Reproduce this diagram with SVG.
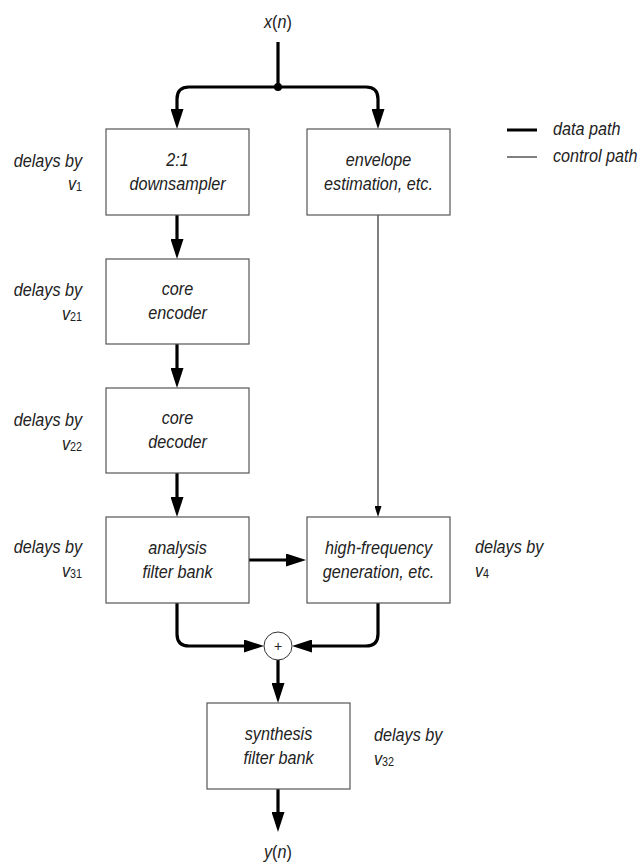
<svg xmlns="http://www.w3.org/2000/svg" width="642" height="863" viewBox="0 0 642 863">
<style>
text{font-family:"Liberation Sans",Arial,sans-serif;font-size:18px;fill:#222;font-style:italic;transform-box:fill-box;transform:scaleX(0.9);transform-origin:left center}
.mid{text-anchor:middle;transform-origin:center}
.end{text-anchor:end;transform-origin:right center}
.up{font-style:normal}
.v{font-size:18px}
.sub{font-size:12px;font-style:normal}
.plus{font-size:14px;font-style:normal;transform:none}
.box{fill:#fff;stroke:#555;stroke-width:1.2}
.data{fill:none;stroke:#000;stroke-width:3.2}
.ctrl{fill:none;stroke:#000;stroke-width:1}
</style>
<defs>
<marker id="ah" markerUnits="userSpaceOnUse" markerWidth="20" markerHeight="13" viewBox="0 0 20 13" refX="14" refY="6.5" orient="auto"><path d="M0,0 L20,6.5 L0,13 z" fill="#000"/></marker>
<marker id="as" markerUnits="userSpaceOnUse" markerWidth="11" markerHeight="7" viewBox="0 0 11 7" refX="8" refY="3.5" orient="auto"><path d="M0,0 L11,3.5 L0,7 z" fill="#000"/></marker>
</defs>

<g id="connectors">
<path class="data" d="M278,42 V87"/>
<path class="data" d="M278,87 H189 Q177,87 177,99 V123" marker-end="url(#ah)"/>
<path class="data" d="M278,87 H366 Q378,87 378,99 V123" marker-end="url(#ah)"/>
<circle cx="278" cy="87" r="4" fill="#000"/>
<path class="data" d="M177,215 V253" marker-end="url(#ah)"/>
<path class="data" d="M177,344 V382" marker-end="url(#ah)"/>
<path class="data" d="M177,473 V511" marker-end="url(#ah)"/>
<path class="ctrl" d="M378,215 V514" marker-end="url(#as)"/>
<path class="data" d="M249,560 H300" marker-end="url(#ah)"/>
<path class="data" d="M177,603 V634 Q177,646 189,646 H258" marker-end="url(#ah)"/>
<path class="data" d="M378,603 V634 Q378,646 366,646 H298" marker-end="url(#ah)"/>
<path class="data" d="M278,660 V697" marker-end="url(#ah)"/>
<path class="data" d="M278,789 V826" marker-end="url(#ah)"/>
</g>

<g id="input"><text x="278" y="28" class="mid">x<tspan class="up">(</tspan>n<tspan class="up">)</tspan></text></g>
<g id="output"><text x="278" y="858" class="mid">y<tspan class="up">(</tspan>n<tspan class="up">)</tspan></text></g>

<g id="legend">
<line x1="507" y1="130" x2="537" y2="130" stroke="#000" stroke-width="3"/>
<text x="553" y="135">data path</text>
<line x1="507" y1="157" x2="537" y2="157" stroke="#000" stroke-width="1"/>
<text x="553" y="162">control path</text>
</g>

<g id="downsampler">
<rect class="box" x="106" y="129" width="143" height="86"/>
<text x="177.5" y="166" class="mid">2:1</text>
<text x="177.5" y="190" class="mid">downsampler</text>
</g>
<g id="envelope">
<rect class="box" x="307" y="129" width="143" height="86"/>
<text x="378.5" y="166" class="mid">envelope</text>
<text x="378.5" y="190" class="mid">estimation, etc.</text>
</g>
<g id="core-encoder">
<rect class="box" x="106" y="259" width="143" height="85"/>
<text x="177.5" y="295" class="mid">core</text>
<text x="177.5" y="319" class="mid">encoder</text>
</g>
<g id="core-decoder">
<rect class="box" x="106" y="388" width="143" height="85"/>
<text x="177.5" y="424" class="mid">core</text>
<text x="177.5" y="448" class="mid">decoder</text>
</g>
<g id="analysis">
<rect class="box" x="106" y="517" width="143" height="86"/>
<text x="177.5" y="554" class="mid">analysis</text>
<text x="177.5" y="578" class="mid">filter bank</text>
</g>
<g id="hf-generation">
<rect class="box" x="307" y="517" width="143" height="86"/>
<text x="378.5" y="554" class="mid">high-frequency</text>
<text x="378.5" y="578" class="mid">generation, etc.</text>
</g>
<g id="sum">
<circle cx="278" cy="646" r="14" fill="#fff" stroke="#333" stroke-width="1"/>
<text x="278" y="651" class="mid plus">+</text>
</g>
<g id="synthesis">
<rect class="box" x="207" y="703" width="143" height="86"/>
<text x="278.5" y="740" class="mid">synthesis</text>
<text x="278.5" y="764" class="mid">filter bank</text>
</g>

<g id="delay-labels">
<text x="82" y="167" class="end">delays by</text>
<text x="82" y="190" class="end v">v<tspan class="sub" dy="1">1</tspan></text>
<text x="82" y="296" class="end">delays by</text>
<text x="82" y="320" class="end v">v<tspan class="sub" dy="1">21</tspan></text>
<text x="82" y="426" class="end">delays by</text>
<text x="82" y="450" class="end v">v<tspan class="sub" dy="1">22</tspan></text>
<text x="82" y="553" class="end">delays by</text>
<text x="82" y="577" class="end v">v<tspan class="sub" dy="1">31</tspan></text>
<text x="475" y="553">delays by</text>
<text x="475" y="577" class="v">v<tspan class="sub" dy="1">4</tspan></text>
<text x="374" y="741" >delays by</text>
<text x="374" y="765" class="v">v<tspan class="sub" dy="1">32</tspan></text>
</g>
</svg>
